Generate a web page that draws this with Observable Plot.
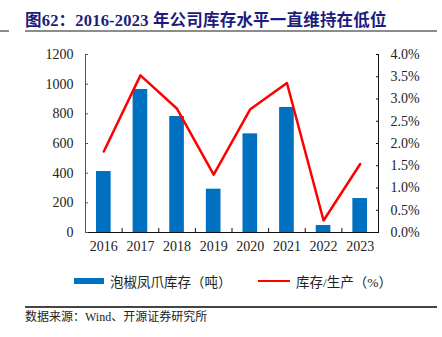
<!DOCTYPE html>
<html>
<head>
<meta charset="utf-8">
<script src="https://cdn.jsdelivr.net/npm/d3@7"></script>
<script src="https://cdn.jsdelivr.net/npm/@observablehq/plot@0.6"></script>
<style>
  html, body { margin: 0; padding: 0; background: #fff; }
  body { width: 442px; height: 337px; position: relative; overflow: hidden;
         font-family: "Liberation Serif", "Noto Sans CJK SC", serif; }
  #title { position: absolute; left: 25px; top: 7px; font-size: 16.5px; font-weight: bold;
           color: #1c1c7c; white-space: nowrap; letter-spacing: 0.2px; }
  #rule-top { position: absolute; left: 25px; top: 30px; width: 412px; height: 2px; background: #8c8c8c; }
  #rule-top-stub { position: absolute; left: 0; top: 30px; width: 9px; height: 2px; background: #8c8c8c; }
  #chart { position: absolute; left: 0; top: 40px; }
  #legend { position: absolute; left: 0; top: 271px; width: 442px; height: 20px; font-size: 13.5px; color: #222; }
  .li { position: absolute; top: 0; display: flex; align-items: center; height: 20px; white-space: nowrap; }
  #rule-bottom { position: absolute; left: 25px; top: 306px; width: 412px; height: 1.5px; background: #444; }
  #caption { position: absolute; left: 25px; top: 307px; font-size: 12px; color: #222; white-space: nowrap; }
</style>
</head>
<body>
<div id="title">图62：2016-2023 年公司库存水平一直维持在低位</div>
<div id="rule-top-stub"></div>
<div id="rule-top"></div>
<div id="chart"></div>
<div id="legend"></div>
<div id="rule-bottom"></div>
<div id="caption">数据来源：Wind、开源证券研究所</div>
<script>
// ---- data ----
const years = [2016, 2017, 2018, 2019, 2020, 2021, 2022, 2023];
const inventory = [411, 964, 782, 292, 665, 843, 47, 229];          // 泡椒凤爪库存（吨）
const ratioPct = [1.82, 3.53, 2.78, 1.30, 2.77, 3.36, 0.27, 1.54];  // 库存/生产（%）
const leftTicks = [0, 200, 400, 600, 800, 1000, 1200];
const rightTicks = [0, 0.5, 1.0, 1.5, 2.0, 2.5, 3.0, 3.5, 4.0];
const barName = "泡椒凤爪库存（吨）";
const lineName = "库存/生产（%）";

const blue = "#0070c0";
const red = "#ff0000";
const k = 1200 / 4; // right axis (%) mapped onto left scale

const data = years.map((y, i) => ({year: y, inv: inventory[i], pct: ratioPct[i]}));
const bounds = [years[0] - 0.5, ...years.map(y => y + 0.5)];

const font = "'Liberation Serif', 'Noto Sans CJK SC', serif";

const chart = Plot.plot({
  width: 442,
  height: 225,
  marginTop: 14,
  marginBottom: 33,
  marginLeft: 85,
  marginRight: 64,
  style: {fontFamily: font, fontSize: "14px", color: "#222", background: "transparent"},
  x: {domain: [years[0] - 0.5, years[years.length - 1] + 0.5]},
  y: {domain: [0, 1200]},
  marks: [
    Plot.rectY(data, {x1: d => d.year - 0.2, x2: d => d.year + 0.2, y1: 0, y2: "inv", fill: blue}),
    Plot.line(data, {x: "year", y: d => d.pct * k, stroke: red, strokeWidth: 2.5}),
    // axis lines
    Plot.ruleX([bounds[0]], {stroke: "#555", strokeWidth: 1}),
    Plot.ruleX([bounds[bounds.length - 1]], {stroke: "#111", strokeWidth: 1}),
    Plot.ruleY([0], {stroke: "#111", strokeWidth: 1.2}),
    // left axis
    Plot.axisY({anchor: "left", ticks: leftTicks, tickSize: 0, tickPadding: 12, label: null,
                fontSize: 14, tickFormat: d => String(d)}),
    Plot.axisY({anchor: "left", ticks: leftTicks, tickSize: -3, text: null, label: null, stroke: "#555"}),
    // right axis
    Plot.axisY({anchor: "right", ticks: rightTicks.map(v => v * k), tickSize: 0, tickPadding: 12,
                label: null, fontSize: 14, tickFormat: d => (d / k).toFixed(1) + "%"}),
    Plot.axisY({anchor: "right", ticks: rightTicks.map(v => v * k), tickSize: -3, text: null, label: null, stroke: "#111"}),
    // x axis: labels at centers, ticks at boundaries
    Plot.axisX({ticks: years, tickSize: 0, tickPadding: 9, label: null, fontSize: 14, tickFormat: d => String(d)}),
    Plot.axisX({ticks: bounds.slice(1, -1), tickSize: -4, text: null, label: null, stroke: "#111"})
  ]
});
document.getElementById("chart").appendChild(chart);

// legend
const legend = document.getElementById("legend");
legend.innerHTML =
  `<div class="li" style="left:74px"><span style="display:inline-block;width:30px;height:6px;background:${blue};margin-right:6px"></span>${barName}</div>` +
  `<div class="li" style="left:258px"><span style="display:inline-block;width:32px;height:2.5px;background:${red};margin-right:6px"></span>${lineName}</div>`;
</script>
</body>
</html>
